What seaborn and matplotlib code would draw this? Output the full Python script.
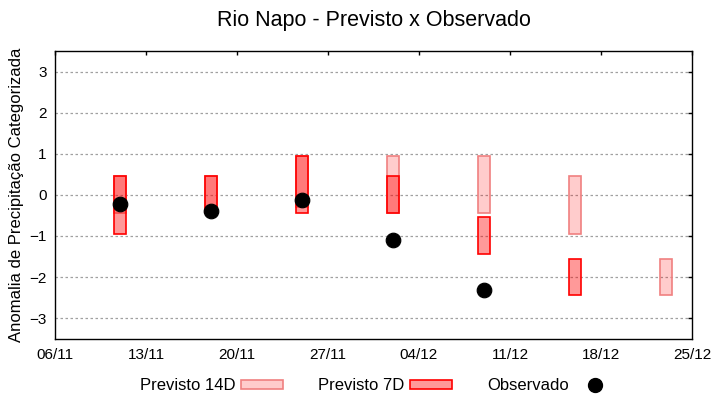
import matplotlib
matplotlib.use("Agg")
import numpy as np
import pandas as pd
import seaborn as sns
import matplotlib.pyplot as plt
import matplotlib.dates as mdates
from matplotlib.patches import Patch
from matplotlib.lines import Line2D

# weekly forecast dates
dates = pd.to_datetime(["2023-11-11", "2023-11-18", "2023-11-25", "2023-12-02",
                        "2023-12-09", "2023-12-16", "2023-12-23"])
p14_low = [-0.45, -0.45, -0.3, -0.45, -0.45, -0.95, -2.45]
p14_high = [0.45, 0.45, 0.95, 0.95, 0.95, 0.45, -1.55]
p7_low = [-0.95, -0.45, -0.45, -0.45, -1.45, -2.45, np.nan]
p7_high = [0.45, 0.45, 0.95, 0.45, -0.55, -1.55, np.nan]
obs = [-0.23, -0.40, -0.13, -1.10, -2.32, np.nan, np.nan]
xticks = pd.date_range("2023-11-06", "2023-12-25", freq="7D")
yticks = [-3, -2, -1, 0, 1, 2, 3]

sns.set_style("white")
plt.rcParams["font.family"] = ["Liberation Sans", "DejaVu Sans"]
plt.rcParams["text.color"] = "black"
plt.rcParams["axes.labelcolor"] = "black"

fig = plt.figure(figsize=(7.2, 4), dpi=100)
ax = fig.add_axes([0.0764, 0.1535, 0.8847, 0.7185])

df = pd.DataFrame({"data": dates, "p14_low": p14_low, "p14_high": p14_high,
                   "p7_low": p7_low, "p7_high": p7_high, "obs": obs})

w = pd.Timedelta(days=0.95)
m14 = df["p14_low"].notna()
ax.bar(df.loc[m14, "data"], df.loc[m14, "p14_high"] - df.loc[m14, "p14_low"],
       bottom=df.loc[m14, "p14_low"], width=w, facecolor=(1, 0, 0, 0.2),
       edgecolor="#f08080", linewidth=1.2, zorder=2)
m7 = df["p7_low"].notna()
ax.bar(df.loc[m7, "data"], df.loc[m7, "p7_high"] - df.loc[m7, "p7_low"],
       bottom=df.loc[m7, "p7_low"], width=w, facecolor=(1, 0, 0, 0.4),
       edgecolor="red", linewidth=1.2, zorder=3)

sns.scatterplot(data=df.dropna(subset=["obs"]), x="data", y="obs", ax=ax,
                color="black", s=110, edgecolor="black", zorder=4, legend=False)

ax.set_xlim(xticks[0], xticks[-1])
ax.set_ylim(-3.5, 3.5)
ax.set_xticks(xticks)
ax.xaxis.set_major_formatter(mdates.DateFormatter("%d/%m"))
ax.set_yticks(yticks)
ax.grid(axis="y", color="#a0a0a0", linestyle=(0, (2, 2)), linewidth=0.9, zorder=0)
ax.tick_params(direction="in", length=3, width=1, top=True, right=True,
               labelsize=11, colors="black")
ax.tick_params(axis="x", pad=7)
ax.tick_params(axis="y", pad=6)
for s in ax.spines.values():
    s.set_color("black")
    s.set_linewidth(1)

ax.set_xlabel("")
ax.set_ylabel("Anomalia de Precipitação Categorizada", fontsize=12, labelpad=4)
fig.suptitle("Rio Napo - Previsto x Observado", fontsize=15.5, x=0.52, y=0.975)

handles = [
    Patch(facecolor=(1, 0, 0, 0.2), edgecolor="#f08080", linewidth=1.2),
    Patch(facecolor=(1, 0, 0, 0.4), edgecolor="red", linewidth=1.2),
    Line2D([], [], marker="o", linestyle="", color="black", markersize=10),
]
fig.legend(handles, ["Previsto 14D", "Previsto 7D", "Observado"],
           loc="center", bbox_to_anchor=(0.525, 0.035), ncol=3, frameon=False,
           markerfirst=False, fontsize=12, handlelength=2.5, handleheight=0.45,
           columnspacing=2.1, handletextpad=0.35)

fig.savefig("out.png", dpi=100)
